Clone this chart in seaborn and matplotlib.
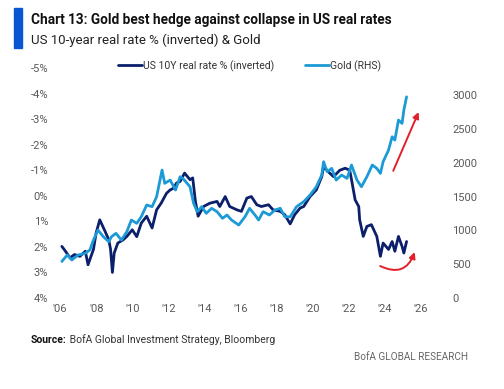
import pandas as pd
import matplotlib.pyplot as plt
import seaborn as sns
from matplotlib.lines import Line2D
from matplotlib.patches import Rectangle

# US 10Y real rate % (left axis, inverted)
rate_year = [2006.1, 2006.3, 2006.55, 2006.8, 2007.1, 2007.4, 2007.55, 2007.85,
             2008.0, 2008.2, 2008.5, 2008.7, 2008.8, 2008.9, 2009.0, 2009.2,
             2009.5, 2009.7, 2010.0, 2010.25, 2010.5, 2010.8, 2011.1, 2011.35,
             2011.6, 2011.9, 2012.1, 2012.3, 2012.45, 2012.65, 2012.9, 2013.2,
             2013.35, 2013.5, 2013.65, 2013.95, 2014.3, 2014.7, 2014.85, 2015.15,
             2015.4, 2015.8, 2016.05, 2016.35, 2016.6, 2016.9, 2017.15, 2017.55,
             2017.8, 2018.2, 2018.45, 2018.75, 2019.0, 2019.3, 2019.5, 2019.85,
             2020.2, 2020.5, 2020.6, 2020.85, 2021.15, 2021.5, 2021.8, 2022.05,
             2022.15, 2022.35, 2022.55, 2022.6, 2022.8, 2023.0, 2023.25, 2023.55,
             2023.75, 2023.9, 2024.2, 2024.4, 2024.55, 2024.75, 2024.95, 2025.05,
             2025.2]
rate_pct = [1.98, 2.17, 2.43, 2.3, 2.37, 2.17, 2.7, 2.1,
            1.45, 0.94, 1.4, 1.72, 2.1, 3.0, 2.24, 1.85,
            1.72, 1.59, 1.33, 1.6, 1.07, 0.8, 1.26, 0.55,
            0.29, -0.1, -0.23, -0.3, -0.5, -0.56, -0.89, -0.63,
            -0.7, 0.22, 0.8, 0.42, 0.29, 0.22, 0.42, 0.03,
            0.42, 0.55, 0.61, 0.09, 0.03, 0.35, 0.42, 0.35,
            0.55, 0.61, 0.74, 1.1, 0.74, 0.48, 0.42, 0.03,
            -0.23, -0.75, -1.14, -0.95, -0.75, -1.0, -1.08, -1.0,
            -0.63, 0.16, 0.42, 0.94, 1.59, 1.2, 1.13, 1.59,
            2.37, 1.85, 2.1, 1.79, 2.17, 1.59, 1.98, 2.24,
            1.79]

# Gold $/oz (right axis)
gold_year = [2006.1, 2006.4, 2006.65, 2007.0, 2007.4, 2007.65, 2007.85, 2008.1,
             2008.4, 2008.7, 2008.85, 2009.1, 2009.4, 2009.7, 2009.95, 2010.25,
             2010.5, 2010.8, 2011.1, 2011.35, 2011.65, 2011.8, 2012.1, 2012.4,
             2012.65, 2012.8, 2013.2, 2013.4, 2013.6, 2013.85, 2014.1, 2014.4,
             2014.7, 2015.0, 2015.25, 2015.5, 2015.9, 2016.25, 2016.5, 2016.8,
             2017.0, 2017.25, 2017.6, 2017.9, 2018.2, 2018.45, 2018.75, 2019.1,
             2019.5, 2019.85, 2020.2, 2020.5, 2020.6, 2020.8, 2021.05, 2021.3,
             2021.6, 2021.9, 2022.15, 2022.45, 2022.7, 2023.0, 2023.3, 2023.55,
             2023.75, 2023.9, 2024.2, 2024.4, 2024.55, 2024.75, 2024.95, 2025.05,
             2025.2]
gold_usd = [540, 636, 562, 636, 660, 710, 857, 1005,
            906, 832, 906, 956, 857, 980, 1153, 1104,
            1202, 1375, 1350, 1497, 1892, 1695, 1744, 1596,
            1793, 1770, 1645, 1400, 1276, 1350, 1252, 1326,
            1276, 1178, 1227, 1153, 1079, 1202, 1326, 1227,
            1153, 1276, 1227, 1300, 1326, 1202, 1200, 1350,
            1424, 1522, 1645, 1818, 2015, 1867, 1917, 1744,
            1818, 1769, 1966, 1744, 1645, 1793, 1966, 1917,
            1843, 2015, 2187, 2384, 2335, 2631, 2582, 2779,
            2975]

x_ticks = list(range(2006, 2027, 2))
x_labels = ["'06", "'08", "'10", "'12", "'14", "'16", "'18", "'20", "'22", "'24", "'26"]
left_ticks = [-5, -4, -3, -2, -1, 0, 1, 2, 3, 4]
right_ticks = [0, 500, 1000, 1500, 2000, 2500, 3000]

navy = '#0b1f6b'
light = '#1c9ad6'
red = '#e3202a'
grey = '#595959'

sns.set_style('white')
plt.rcParams['font.family'] = ['Roboto', 'DejaVu Sans']

rate_df = pd.DataFrame({'year': rate_year, 'rate': rate_pct})
gold_df = pd.DataFrame({'year': gold_year, 'gold': gold_usd})

fig = plt.figure(figsize=(5.04, 3.89), dpi=100)
ax = fig.add_axes([0.112, 0.234, 0.752, 0.591])
ax2 = ax.twinx()

sns.lineplot(data=rate_df, x='year', y='rate', ax=ax, color=navy, lw=2.0)
sns.lineplot(data=gold_df, x='year', y='gold', ax=ax2, color=light, lw=2.0)

ax.set_xlim(2005.8, 2026.8)
ax.set_ylim(4, -5)
ax2.set_ylim(0, 3400)

ax.set_xticks(x_ticks)
ax.set_xticklabels(x_labels)
ax.set_yticks(left_ticks)
ax.set_yticklabels([f'{v}%' for v in left_ticks])
ax2.set_yticks(right_ticks)
ax2.set_yticklabels([str(v) for v in right_ticks])
ax.set_xlabel('')
ax.set_ylabel('')
ax2.set_ylabel('')

for a in (ax, ax2):
    for s in a.spines.values():
        s.set_visible(False)
    a.tick_params(length=0, labelsize=8, labelcolor=grey)
ax.tick_params(axis='y', pad=6)
ax.tick_params(axis='x', pad=4)
ax2.tick_params(axis='y', pad=12)

# red arrows
ax2.annotate('', xy=(2025.93, 2788), xytext=(2024.4, 1843),
             arrowprops=dict(arrowstyle='-|>', color=red, lw=1.4, mutation_scale=9))
ax.annotate('', xy=(2025.7, 2.1), xytext=(2023.6, 2.7),
            arrowprops=dict(arrowstyle='-|>', color=red, lw=1.4, mutation_scale=9,
                            connectionstyle='arc3,rad=0.6'))

handles = [Line2D([0], [0], color=navy, lw=2.0), Line2D([0], [0], color=light, lw=2.0)]
ax.legend(handles, ['US 10Y real rate % (inverted)', 'Gold (RHS)'], loc='center',
          bbox_to_anchor=(0.51, 1.01), ncol=2, frameon=False, fontsize=7.5,
          handlelength=2.3, handletextpad=0.1, columnspacing=3.0, labelcolor='#333333')

# header
fig.patches.append(Rectangle((14 / 504, 1 - 48 / 389), 8 / 504, 40 / 389,
                             transform=fig.transFigure, color='#0a55d2'))
fig.text(31 / 504, 1 - 20 / 389, 'Chart 13: Gold best hedge against collapse in US real rates',
         fontsize=9.8, fontweight='bold', color='#111111', va='center')
fig.text(31 / 504, 1 - 40 / 389, 'US 10-year real rate % (inverted) & Gold',
         fontsize=9.5, color='#222222', va='center')

src = fig.text(31 / 504, 1 - 340 / 389, 'Source:', fontsize=7.5, fontweight='bold',
               color='#111111', va='center')
ax.annotate(' BofA Global Investment Strategy, Bloomberg', xy=(1, 0.5), xycoords=src,
            fontsize=7.5, color='#333333', va='center', ha='left', annotation_clip=False)
fig.text(468 / 504, 1 - 357 / 389, 'BofA GLOBAL RESEARCH', fontsize=7.2, color='#666666',
         ha='right', va='center')

fig.savefig('out.png', dpi=100)
